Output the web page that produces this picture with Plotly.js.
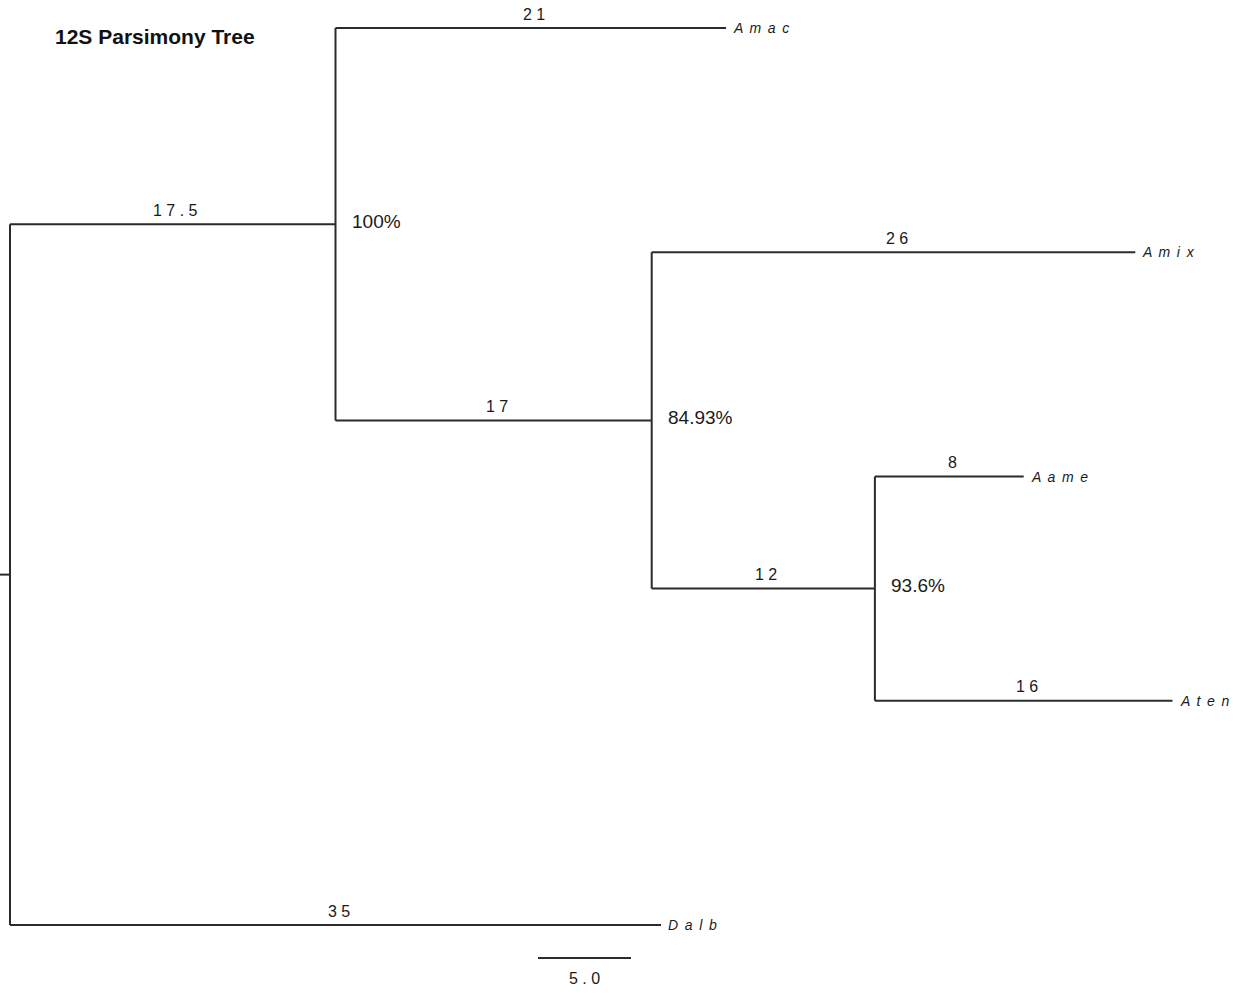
<!DOCTYPE html>
<html>
<head>
<meta charset="utf-8">
<script src="https://cdn.plot.ly/plotly-3.0.1.min.js"></script>
<style>html,body{margin:0;padding:0;background:#fff;}#chart{width:1233px;height:993px;}</style>
</head>
<body>
<div id="chart"></div>
<script>
// ---- tree data ----
const nodeIds   = ["root", "n1", "n2", "n3", "Amac", "Amix", "Aame", "Aten", "Dalb"];
const parentIds = [null,   "root", "n1", "n2", "n1",  "n2",  "n3",  "n3",  "root"];
const branchLengths = [0, 17.5, 17, 12, 21, 26, 8, 16, 35];
const supportNodes  = ["n1", "n2", "n3"];
const supportValues = ["100%", "84.93%", "93.6%"];
const tipOrder = ["Amac", "Amix", "Aame", "Aten", "Dalb"];
const scaleBarLength = 5.0;
const scaleBarLabel = "5.0";
const rootStub = 0.54;

// ---- layout helpers ----
const W = 1233, H = 993;
const pxPerUnit = 18.6, rootPx = 10;
const tipTopPx = 28, tipStepPx = 224.25;
const xRange = [-rootPx / pxPerUnit, (W - rootPx) / pxPerUnit];
const yRange = [(H - tipTopPx) / tipStepPx, -tipTopPx / tipStepPx];

const nodes = {};
nodeIds.forEach((id, i) => nodes[id] = {id, parent: parentIds[i], len: branchLengths[i], children: []});
nodeIds.forEach(id => { const p = nodes[id].parent; if (p) nodes[p].children.push(id); });
function setX(id, base) { const n = nodes[id]; n.x = base + n.len; n.children.forEach(c => setX(c, n.x)); }
setX("root", 0);
function setY(id) {
  const n = nodes[id];
  if (n.children.length === 0) { n.y = tipOrder.indexOf(id); return; }
  n.children.forEach(setY);
  const ys = n.children.map(c => nodes[c].y);
  n.minY = Math.min(...ys); n.maxY = Math.max(...ys);
  n.y = (n.minY + n.maxY) / 2;
}
setY("root");

const lx = [], ly = [];
lx.push(-rootStub, 0, null); ly.push(nodes.root.y, nodes.root.y, null);
nodeIds.forEach(id => {
  const n = nodes[id];
  if (n.parent) { const p = nodes[n.parent]; lx.push(p.x, n.x, null); ly.push(n.y, n.y, null); }
  if (n.children.length) { lx.push(n.x, n.x, null); ly.push(n.minY, n.maxY, null); }
});

const spaced = (s, sep) => String(s).split('').join(sep || ' ');
const lineColor = '#2b2b2b';
const FONT = 'Liberation Sans, Arial, sans-serif';
const annotations = [];
nodeIds.forEach(id => {
  const n = nodes[id];
  if (!n.parent) return;
  const p = nodes[n.parent];
  annotations.push({x: (p.x + n.x) / 2, y: n.y, xref: 'x', yref: 'y', text: spaced(n.len), showarrow: false,
    xanchor: 'center', yanchor: 'middle', yshift: 14, xshift: 3,
    font: {family: FONT, size: 16, color: '#1a1a1a'}});
  if (n.children.length === 0) {
    annotations.push({x: n.x, y: n.y, xref: 'x', yref: 'y', text: spaced(id, ' \u2009'), showarrow: false,
      xanchor: 'left', yanchor: 'middle', xshift: 5, yshift: 0,
      font: {family: FONT, size: 14, color: '#1a1a1a', style: 'italic'}});
  }
});
supportNodes.forEach((id, i) => {
  const n = nodes[id];
  annotations.push({x: n.x, y: n.y, xref: 'x', yref: 'y', text: supportValues[i], showarrow: false,
    xanchor: 'left', yanchor: 'middle', xshift: 14, yshift: 3,
    font: {family: FONT, size: 19, color: '#1a1a1a'}});
});
// scale bar
const sbX0 = (538 - rootPx) / pxPerUnit;
const sbY = (958 - tipTopPx) / tipStepPx;
annotations.push({x: sbX0 + scaleBarLength / 2, y: sbY, xref: 'x', yref: 'y', text: spaced(scaleBarLabel), showarrow: false,
  xanchor: 'center', yanchor: 'middle', yshift: -20,
  font: {family: FONT, size: 16, color: '#1a1a1a'}});

const traces = [
  {x: lx, y: ly, mode: 'lines', type: 'scatter', line: {color: lineColor, width: 2}, hoverinfo: 'skip', showlegend: false},
  {x: [sbX0, sbX0 + scaleBarLength], y: [sbY, sbY], mode: 'lines', type: 'scatter', line: {color: lineColor, width: 2}, hoverinfo: 'skip', showlegend: false}
];

const layout = {
  width: W, height: H,
  margin: {l: 0, r: 0, t: 0, b: 0, pad: 0},
  paper_bgcolor: '#fff', plot_bgcolor: '#fff',
  title: {text: '<b>12S Parsimony Tree</b>', x: 55 / W, xanchor: 'left', xref: 'paper', y: 1 - 37 / H, yanchor: 'middle', yref: 'paper',
    font: {family: FONT, size: 21, color: '#111'}},
  xaxis: {range: xRange, visible: false, fixedrange: true},
  yaxis: {range: yRange, visible: false, fixedrange: true},
  annotations: annotations,
  showlegend: false
};
Plotly.newPlot('chart', traces, layout, {displayModeBar: false, staticPlot: true});
</script>
</body>
</html>
